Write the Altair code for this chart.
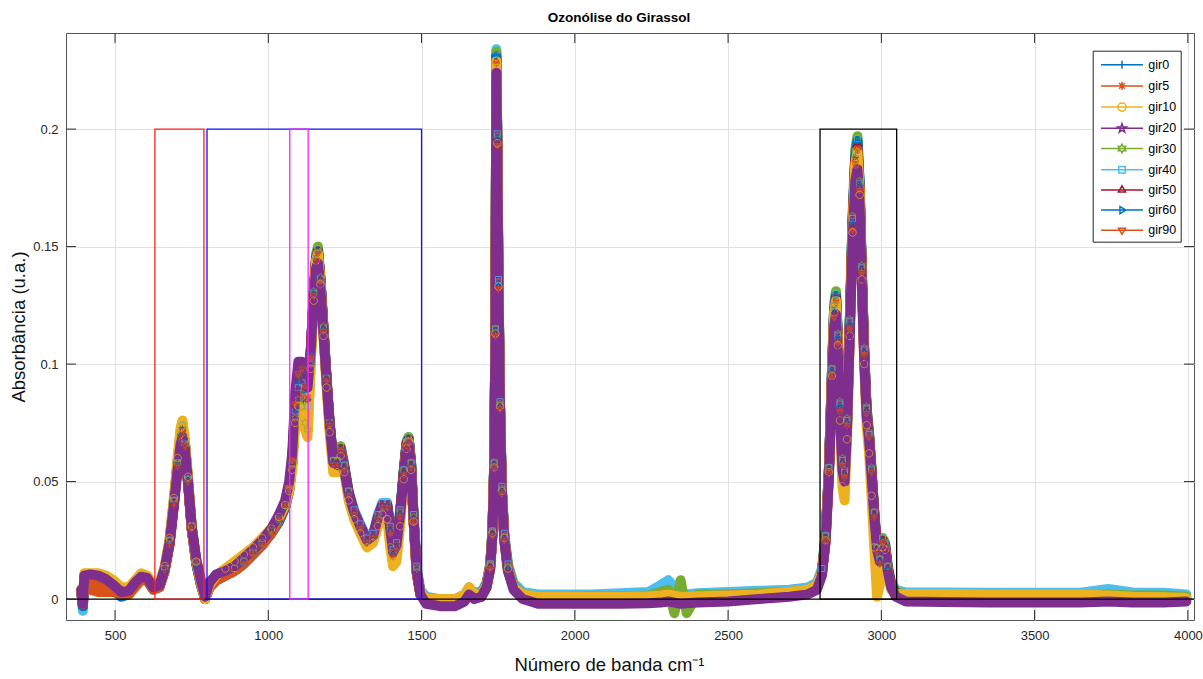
import math
import altair as alt
import pandas as pd

# ---- spectra: wavenumber grid (cm-1) and absorbance of each sample ----
wavenumber = [390, 395, 400, 420, 445, 470, 495, 520, 545, 565,
              585, 605, 625, 645, 662, 678, 692, 704, 714, 720,
              728, 738, 750, 765, 780, 794, 808, 830, 860, 890,
              920, 950, 980, 1010, 1035, 1055, 1068, 1078, 1088, 1098,
              1110, 1120, 1128, 1138, 1148, 1156, 1162, 1170, 1180, 1190,
              1200, 1212, 1225, 1236, 1248, 1262, 1280, 1300, 1322, 1342,
              1358, 1372, 1388, 1398, 1407, 1418, 1430, 1442, 1451, 1458,
              1466, 1474, 1484, 1496, 1515, 1560, 1610, 1640, 1655, 1672,
              1695, 1712, 1724, 1731, 1737, 1741, 1744, 1747, 1751, 1756,
              1762, 1770, 1782, 1800, 1830, 1880, 1950, 2050, 2150, 2240,
              2280, 2305, 2325, 2345, 2365, 2400, 2500, 2600, 2700, 2760,
              2790, 2806, 2818, 2829, 2839, 2846, 2852, 2858, 2865, 2873,
              2880, 2888, 2897, 2906, 2915, 2922, 2929, 2936, 2944, 2952,
              2960, 2968, 2977, 2986, 2995, 3004, 3012, 3021, 3032, 3048,
              3080, 3200, 3350, 3500, 3650, 3740, 3820, 3920, 3995]

gir0 = [0.003, -0.003, 0.009, 0.009, 0.0085, 0.007, 0.004, 0.001, 0.002, 0.006,
        0.009, 0.008, 0.004, 0.005, 0.012, 0.024, 0.041, 0.058, 0.070, 0.073,
        0.066, 0.050, 0.030, 0.015, 0.006, 0.000, 0.005, 0.008, 0.010, 0.012,
        0.015, 0.019, 0.023, 0.028, 0.033, 0.039, 0.046, 0.058, 0.080, 0.092,
        0.095, 0.088, 0.085, 0.104, 0.130, 0.145, 0.148, 0.136, 0.115, 0.093,
        0.074, 0.058, 0.058, 0.064, 0.056, 0.045, 0.036, 0.030, 0.024, 0.026,
        0.034, 0.039, 0.039, 0.029, 0.019, 0.022, 0.036, 0.054, 0.066, 0.068,
        0.057, 0.034, 0.012, 0.002, -0.001, -0.002, -0.002, 0.000, 0.003, 0.001,
        0.002, 0.006, 0.014, 0.028, 0.057, 0.114, 0.231, 0.196, 0.134, 0.082,
        0.046, 0.026, 0.013, 0.005, 0.001, -0.001, -0.001, -0.001, -0.001, -0.001,
        0.000, 0.001, 0.000, -0.001, -0.001, -0.001, 0.000, 0.001, 0.002, 0.003,
        0.005, 0.011, 0.026, 0.055, 0.097, 0.123, 0.129, 0.111, 0.082, 0.058,
        0.053, 0.075, 0.117, 0.160, 0.188, 0.194, 0.176, 0.140, 0.105, 0.080,
        0.069, 0.054, 0.036, 0.021, 0.016, 0.025, 0.023, 0.013, 0.006, 0.002,
        0.000, 0.000, 0.000, -0.0005, -0.0005, 0.000, -0.0005, -0.0005, 0.000]

gir5 = [0.002, -0.002, 0.006, 0.004, 0.003, 0.003, 0.003, 0.002, 0.002, 0.005,
        0.008, 0.008, 0.004, 0.005, 0.012, 0.023, 0.040, 0.056, 0.068, 0.071,
        0.065, 0.050, 0.030, 0.016, 0.007, 0.000, 0.005, 0.008, 0.010, 0.012,
        0.015, 0.019, 0.023, 0.028, 0.034, 0.040, 0.047, 0.059, 0.083, 0.095,
        0.097, 0.090, 0.086, 0.103, 0.129, 0.144, 0.147, 0.135, 0.114, 0.093,
        0.074, 0.057, 0.057, 0.063, 0.055, 0.044, 0.036, 0.030, 0.024, 0.026,
        0.034, 0.039, 0.039, 0.028, 0.018, 0.021, 0.035, 0.053, 0.065, 0.067,
        0.056, 0.033, 0.011, 0.002, -0.001, -0.002, -0.002, 0.000, 0.002, 0.001,
        0.001, 0.005, 0.013, 0.027, 0.056, 0.112, 0.228, 0.193, 0.132, 0.081,
        0.045, 0.025, 0.012, 0.005, 0.001, 0.000, 0.000, 0.000, 0.000, 0.0005,
        0.001, 0.0015, 0.001, 0.000, 0.0005, 0.0005, 0.001, 0.0015, 0.002, 0.003,
        0.005, 0.011, 0.025, 0.054, 0.095, 0.120, 0.126, 0.109, 0.080, 0.057,
        0.052, 0.074, 0.115, 0.157, 0.185, 0.191, 0.174, 0.139, 0.104, 0.079,
        0.069, 0.054, 0.035, 0.020, 0.015, 0.024, 0.022, 0.012, 0.005, 0.001,
        0.000, 0.0005, 0.0005, 0.0005, 0.000, 0.0005, 0.000, 0.000, 0.000]

gir10 = [0.004, -0.001, 0.011, 0.011, 0.011, 0.010, 0.008, 0.005, 0.005, 0.008,
         0.011, 0.010, 0.006, 0.007, 0.014, 0.026, 0.043, 0.060, 0.073, 0.076,
         0.068, 0.052, 0.031, 0.016, 0.007, 0.000, 0.006, 0.010, 0.013, 0.016,
         0.019, 0.022, 0.026, 0.030, 0.035, 0.040, 0.046, 0.055, 0.075, 0.082,
         0.078, 0.072, 0.069, 0.098, 0.127, 0.144, 0.147, 0.134, 0.112, 0.090,
         0.071, 0.054, 0.054, 0.061, 0.054, 0.042, 0.034, 0.028, 0.022, 0.024,
         0.031, 0.036, 0.034, 0.022, 0.014, 0.016, 0.031, 0.051, 0.064, 0.067,
         0.055, 0.033, 0.012, 0.003, 0.000, 0.000, 0.000, 0.002, 0.005, 0.002,
         0.002, 0.006, 0.014, 0.028, 0.056, 0.113, 0.229, 0.194, 0.133, 0.082,
         0.046, 0.026, 0.013, 0.005, 0.002, 0.001, 0.001, 0.001, 0.001, 0.0012,
         0.0015, 0.002, 0.0015, 0.001, 0.001, 0.0012, 0.0015, 0.002, 0.003, 0.004,
         0.006, 0.011, 0.025, 0.054, 0.095, 0.122, 0.127, 0.108, 0.076, 0.048,
         0.042, 0.068, 0.112, 0.156, 0.185, 0.190, 0.172, 0.136, 0.100, 0.074,
         0.062, 0.044, 0.022, 0.001, 0.006, 0.022, 0.021, 0.011, 0.004, 0.002,
         0.0022, 0.0022, 0.002, 0.002, 0.002, 0.0015, 0.001, 0.0008, 0.0005]

gir20 = [0.004, -0.002, 0.010, 0.0105, 0.010, 0.0085, 0.006, 0.003, 0.0035, 0.007,
         0.0095, 0.009, 0.005, 0.006, 0.013, 0.024, 0.040, 0.055, 0.066, 0.069,
         0.064, 0.050, 0.031, 0.017, 0.008, 0.001, 0.007, 0.0105, 0.012, 0.014,
         0.0175, 0.021, 0.025, 0.030, 0.036, 0.042, 0.050, 0.062, 0.088, 0.101,
         0.101, 0.096, 0.090, 0.105, 0.128, 0.141, 0.143, 0.132, 0.113, 0.093,
         0.075, 0.058, 0.057, 0.062, 0.055, 0.045, 0.037, 0.031, 0.025, 0.027,
         0.035, 0.040, 0.040, 0.030, 0.020, 0.023, 0.036, 0.053, 0.064, 0.066,
         0.056, 0.034, 0.012, 0.002, -0.002, -0.003, -0.003, -0.001, 0.002, 0.000,
         0.001, 0.005, 0.013, 0.027, 0.055, 0.110, 0.224, 0.190, 0.130, 0.080,
         0.045, 0.025, 0.012, 0.004, 0.000, -0.002, -0.002, -0.002, -0.002, -0.0018,
         -0.0015, -0.001, -0.0015, -0.002, -0.0018, -0.0015, -0.001, 0.000, 0.001, 0.002,
         0.004, 0.010, 0.024, 0.052, 0.092, 0.116, 0.121, 0.105, 0.078, 0.055,
         0.050, 0.072, 0.112, 0.152, 0.178, 0.183, 0.168, 0.135, 0.102, 0.078,
         0.068, 0.053, 0.035, 0.021, 0.016, 0.023, 0.021, 0.012, 0.005, 0.001,
         -0.001, -0.0012, -0.0015, -0.0015, -0.0015, -0.001, -0.0015, -0.0015, -0.001]

gir30 = [0.004, -0.002, 0.010, 0.010, 0.0095, 0.008, 0.0055, 0.0025, 0.003, 0.0065,
         0.009, 0.0085, 0.0045, 0.0055, 0.013, 0.025, 0.042, 0.058, 0.071, 0.074,
         0.066, 0.051, 0.031, 0.016, 0.007, 0.001, 0.006, 0.009, 0.011, 0.013,
         0.016, 0.020, 0.024, 0.029, 0.034, 0.040, 0.047, 0.057, 0.077, 0.085,
         0.082, 0.075, 0.072, 0.100, 0.131, 0.147, 0.150, 0.137, 0.116, 0.094,
         0.075, 0.059, 0.059, 0.065, 0.057, 0.046, 0.037, 0.031, 0.025, 0.027,
         0.035, 0.040, 0.040, 0.030, 0.020, 0.023, 0.037, 0.055, 0.067, 0.069,
         0.058, 0.035, 0.013, 0.003, 0.000, -0.001, -0.001, 0.001, 0.005, 0.002,
         0.002, 0.006, 0.015, 0.029, 0.058, 0.115, 0.233, 0.197, 0.135, 0.083,
         0.047, 0.027, 0.014, 0.006, 0.002, 0.001, 0.001, 0.0012, 0.0012, 0.0015,
         0.003, 0.004, -0.006, 0.008, -0.006, 0.002, 0.002, 0.0025, 0.003, 0.004,
         0.006, 0.012, 0.027, 0.056, 0.098, 0.125, 0.131, 0.113, 0.084, 0.060,
         0.055, 0.077, 0.119, 0.163, 0.191, 0.197, 0.178, 0.142, 0.107, 0.082,
         0.071, 0.056, 0.037, 0.022, 0.017, 0.026, 0.024, 0.014, 0.007, 0.003,
         0.002, 0.002, 0.002, 0.0015, 0.0015, 0.002, 0.0015, 0.0015, 0.001]

gir40 = [0.002, -0.005, 0.010, 0.0105, 0.010, 0.0085, 0.006, 0.003, 0.0035, 0.007,
         0.0095, 0.009, 0.005, 0.006, 0.013, 0.025, 0.042, 0.058, 0.071, 0.074,
         0.066, 0.051, 0.031, 0.016, 0.007, 0.001, 0.006, 0.009, 0.011, 0.013,
         0.016, 0.020, 0.024, 0.029, 0.034, 0.040, 0.047, 0.058, 0.080, 0.090,
         0.092, 0.086, 0.082, 0.103, 0.130, 0.146, 0.149, 0.136, 0.115, 0.094,
         0.075, 0.059, 0.059, 0.065, 0.057, 0.046, 0.038, 0.032, 0.026, 0.028,
         0.036, 0.041, 0.041, 0.031, 0.021, 0.024, 0.038, 0.055, 0.067, 0.069,
         0.058, 0.036, 0.014, 0.004, 0.001, 0.000, 0.000, 0.002, 0.004, 0.003,
         0.003, 0.007, 0.015, 0.029, 0.058, 0.115, 0.234, 0.198, 0.136, 0.084,
         0.048, 0.028, 0.015, 0.007, 0.003, 0.002, 0.002, 0.002, 0.0025, 0.003,
         0.006, 0.008, 0.005, 0.002, 0.002, 0.0025, 0.003, 0.0035, 0.004, 0.005,
         0.007, 0.013, 0.027, 0.056, 0.098, 0.125, 0.130, 0.112, 0.083, 0.059,
         0.054, 0.076, 0.118, 0.162, 0.190, 0.196, 0.177, 0.141, 0.106, 0.081,
         0.070, 0.055, 0.037, 0.022, 0.017, 0.026, 0.024, 0.014, 0.007, 0.004,
         0.0028, 0.0028, 0.0027, 0.0027, 0.0027, 0.0043, 0.0028, 0.0027, 0.002]

gir50 = [0.004, -0.002, 0.0095, 0.0095, 0.009, 0.0075, 0.005, 0.002, 0.003, 0.0065,
         0.009, 0.0085, 0.0045, 0.0055, 0.0125, 0.024, 0.041, 0.057, 0.069, 0.072,
         0.065, 0.050, 0.030, 0.016, 0.007, 0.000, 0.006, 0.009, 0.011, 0.013,
         0.016, 0.020, 0.024, 0.029, 0.034, 0.040, 0.047, 0.058, 0.082, 0.094,
         0.096, 0.090, 0.085, 0.103, 0.129, 0.145, 0.148, 0.136, 0.115, 0.094,
         0.075, 0.058, 0.058, 0.064, 0.056, 0.045, 0.037, 0.031, 0.025, 0.027,
         0.035, 0.040, 0.040, 0.029, 0.019, 0.022, 0.036, 0.054, 0.066, 0.068,
         0.057, 0.034, 0.012, 0.003, -0.001, -0.002, -0.002, 0.000, 0.003, 0.001,
         0.002, 0.006, 0.014, 0.028, 0.057, 0.113, 0.229, 0.195, 0.133, 0.082,
         0.046, 0.026, 0.013, 0.005, 0.001, -0.0005, -0.0005, -0.0005, -0.0005, 0.000,
         0.000, 0.0005, 0.000, -0.0005, 0.000, 0.000, 0.0005, 0.001, 0.002, 0.003,
         0.005, 0.011, 0.026, 0.055, 0.096, 0.122, 0.128, 0.110, 0.081, 0.058,
         0.053, 0.075, 0.116, 0.158, 0.187, 0.192, 0.175, 0.140, 0.105, 0.080,
         0.069, 0.054, 0.036, 0.021, 0.016, 0.025, 0.023, 0.013, 0.006, 0.002,
         0.000, 0.000, -0.0005, -0.0005, -0.0005, 0.000, -0.0005, -0.0005, 0.000]

gir60 = [0.003, -0.003, 0.009, 0.0095, 0.009, 0.0075, 0.0045, 0.0015, 0.0025, 0.0065,
         0.009, 0.0085, 0.0045, 0.0055, 0.0125, 0.024, 0.041, 0.057, 0.069, 0.072,
         0.066, 0.050, 0.030, 0.015, 0.006, 0.000, 0.005, 0.008, 0.010, 0.012,
         0.015, 0.019, 0.023, 0.028, 0.033, 0.039, 0.046, 0.058, 0.081, 0.093,
         0.096, 0.089, 0.085, 0.104, 0.130, 0.145, 0.148, 0.136, 0.115, 0.094,
         0.075, 0.058, 0.058, 0.064, 0.056, 0.045, 0.036, 0.030, 0.024, 0.026,
         0.034, 0.039, 0.039, 0.029, 0.019, 0.022, 0.036, 0.054, 0.066, 0.068,
         0.057, 0.034, 0.012, 0.002, -0.001, -0.002, -0.002, 0.000, 0.003, 0.001,
         0.002, 0.006, 0.014, 0.028, 0.057, 0.114, 0.231, 0.196, 0.134, 0.082,
         0.046, 0.026, 0.013, 0.005, 0.001, -0.001, -0.001, -0.001, -0.001, -0.0005,
         0.000, 0.0005, 0.000, -0.001, -0.0005, -0.0005, 0.000, 0.001, 0.002, 0.003,
         0.005, 0.011, 0.026, 0.055, 0.097, 0.123, 0.129, 0.111, 0.082, 0.058,
         0.053, 0.075, 0.117, 0.160, 0.188, 0.195, 0.176, 0.140, 0.105, 0.080,
         0.069, 0.054, 0.036, 0.021, 0.016, 0.025, 0.023, 0.013, 0.006, 0.002,
         0.000, 0.000, 0.000, -0.0005, -0.0005, 0.000, -0.0005, -0.0005, 0.000]

gir90 = [0.003, -0.002, 0.008, 0.007, 0.006, 0.005, 0.004, 0.002, 0.0025, 0.006,
         0.009, 0.0085, 0.0045, 0.0055, 0.0125, 0.024, 0.041, 0.057, 0.069, 0.072,
         0.065, 0.050, 0.030, 0.016, 0.007, 0.000, 0.005, 0.008, 0.010, 0.012,
         0.015, 0.019, 0.023, 0.028, 0.034, 0.040, 0.047, 0.059, 0.083, 0.096,
         0.098, 0.091, 0.086, 0.103, 0.129, 0.144, 0.147, 0.135, 0.114, 0.093,
         0.074, 0.057, 0.057, 0.063, 0.055, 0.044, 0.036, 0.030, 0.024, 0.026,
         0.034, 0.039, 0.039, 0.028, 0.018, 0.021, 0.035, 0.053, 0.065, 0.067,
         0.056, 0.033, 0.011, 0.002, -0.001, -0.002, -0.002, 0.000, 0.002, 0.001,
         0.001, 0.005, 0.013, 0.027, 0.056, 0.112, 0.228, 0.193, 0.132, 0.081,
         0.045, 0.025, 0.012, 0.005, 0.001, 0.000, 0.0005, 0.0005, 0.0005, 0.001,
         0.0015, 0.002, 0.0015, 0.001, 0.001, 0.001, 0.0015, 0.002, 0.0025, 0.0035,
         0.005, 0.011, 0.025, 0.054, 0.095, 0.120, 0.126, 0.109, 0.080, 0.057,
         0.052, 0.074, 0.115, 0.157, 0.185, 0.191, 0.174, 0.139, 0.104, 0.079,
         0.069, 0.054, 0.035, 0.020, 0.015, 0.024, 0.022, 0.012, 0.005, 0.001,
         0.0005, 0.0005, 0.0005, 0.0005, 0.0005, 0.0005, 0.0005, 0.0005, 0.0005]

series_names = ["gir0", "gir5", "gir10", "gir20", "gir30", "gir40", "gir50", "gir60", "gir90"]
series_values = [gir0, gir5, gir10, gir20, gir30, gir40, gir50, gir60, gir90]
series_colors = ["#0072BD", "#D95319", "#EDB120", "#7E2F8E", "#77AC30",
                 "#4DBEEE", "#A2142F", "#0072BD", "#D95319"]
series_markers = ["plus", "asterisk", "circle", "pentagram", "hexagram",
                  "square", "triangle-up", "triangle-right", "triangle-down"]
# painting order: gir20 last so it sits on top of the others
draw_order = ["gir40", "gir30", "gir0", "gir60", "gir50", "gir5", "gir90", "gir10", "gir20"]

# ---- highlighted integration windows ----
box_start = [630, 800, 1070, 2800]
box_end = [790, 1500, 1130, 3050]
box_top = [0.2, 0.2, 0.2, 0.2]
box_colors = ["#FF2020", "#1010FF", "#FF20FF", "#000000"]

x_ticks = [500, 1000, 1500, 2000, 2500, 3000, 3500, 4000]
y_ticks = [0, 0.05, 0.1, 0.15, 0.2]

for name, vals in zip(series_names, series_values):
    if len(vals) != len(wavenumber):
        raise ValueError(f"{name}: {len(vals)} values for {len(wavenumber)} wavenumbers")

rows = []
for name, vals in zip(series_names, series_values):
    for w, a in zip(wavenumber, vals):
        rows.append({"amostra": name, "numero": w, "absorbancia": a})
spectra = pd.DataFrame(rows)


# ---- marker glyphs as SVG paths ----
def fmt(v):
    return f"{v:.3f}".rstrip("0").rstrip(".") if v != 0 else "0"


def star(n, r_out, r_in):
    pts = []
    for k in range(2 * n):
        r = r_out if k % 2 == 0 else r_in
        ang = -math.pi / 2 + k * math.pi / n
        pts.append((r * math.cos(ang), r * math.sin(ang)))
    return "M" + "L".join(f"{fmt(x)},{fmt(y)}" for x, y in pts) + "Z"


def marker_path(kind, r):
    d = r * 0.7071
    h = r * 0.866
    s = r * 0.8
    if kind == "plus":
        return f"M0,{fmt(-r)}V{fmt(r)}M{fmt(-r)},0H{fmt(r)}"
    if kind == "asterisk":
        return (f"M0,{fmt(-r)}V{fmt(r)}M{fmt(-r)},0H{fmt(r)}"
                f"M{fmt(-d)},{fmt(-d)}L{fmt(d)},{fmt(d)}M{fmt(-d)},{fmt(d)}L{fmt(d)},{fmt(-d)}")
    if kind == "circle":
        return f"M{fmt(-r)},0A{fmt(r)},{fmt(r)} 0 1,0 {fmt(r)},0A{fmt(r)},{fmt(r)} 0 1,0 {fmt(-r)},0Z"
    if kind == "pentagram":
        return star(5, r * 1.15, r * 0.45)
    if kind == "hexagram":
        return star(6, r * 1.05, r * 0.6)
    if kind == "square":
        return f"M{fmt(-s)},{fmt(-s)}H{fmt(s)}V{fmt(s)}H{fmt(-s)}Z"
    if kind == "triangle-up":
        return f"M0,{fmt(-r)}L{fmt(h)},{fmt(r / 2)}H{fmt(-h)}Z"
    if kind == "triangle-right":
        return f"M{fmt(r)},0L{fmt(-r / 2)},{fmt(-h)}V{fmt(h)}Z"
    return f"M0,{fmt(r)}L{fmt(h)},{fmt(-r / 2)}H{fmt(-h)}Z"


legend_paths = ["M-2.33,0H2.33" + marker_path(m, 0.45) for m in series_markers]

plot_w, plot_h = 1128, 587
font = "Liberation Sans"
ink = "#262626"

x_axis = alt.Axis(values=x_ticks, format="d", title="Número de banda cm⁻¹",
                  grid=True, gridColor="#e2e2e2", gridWidth=1, ticks=False, tickSize=0,
                  domain=False, labelPadding=9, labelFont=font, labelFontSize=13,
                  labelColor=ink, titleFont=font, titleFontSize=18.5,
                  titleFontWeight="normal", titleColor="#111111", titlePadding=13,
                  titleX=543)
y_axis = alt.Axis(values=y_ticks, format=".2~f", title="Absorbância (u.a.)",
                  grid=True, gridColor="#e2e2e2", gridWidth=1, ticks=False, tickSize=0,
                  domain=False, labelPadding=8, labelFont=font, labelFontSize=13,
                  labelColor=ink, titleFont=font, titleFontSize=18.5,
                  titleFontWeight="normal", titleColor="#111111", titlePadding=4)
x_scale = alt.Scale(domain=[340, 4020], nice=False, zero=False)
y_scale = alt.Scale(domain=[-0.0089, 0.2409], nice=False, zero=False)


def xq(field="numero"):
    return alt.X(f"{field}:Q", scale=x_scale, axis=x_axis, title="Número de banda cm⁻¹")


def yq(field="absorbancia"):
    return alt.Y(f"{field}:Q", scale=y_scale, axis=y_axis, title="Absorbância (u.a.)")


layers = []
color_of = dict(zip(series_names, series_colors))
marker_of = dict(zip(series_names, series_markers))

# broad bands: each sample is dense enough that its markers merge into a thick trace
for name in draw_order:
    layers.append(
        alt.Chart(spectra).transform_filter(alt.datum.amostra == name)
        .mark_line(color=color_of[name], strokeWidth=10, strokeCap="round",
                   strokeJoin="round", clip=True)
        .encode(x=xq(), y=yq(), order="numero:Q")
    )

# hollow markers on the absorption bands
for name in draw_order:
    layers.append(
        alt.Chart(spectra).transform_filter(
            (alt.datum.amostra == name) & (alt.datum.absorbancia > 0.012))
        .mark_point(filled=False, strokeWidth=1, size=56, clip=True)
        .encode(x=xq(), y=yq(),
                shape=alt.value(marker_path(marker_of[name], 1.0)),
                color=alt.value(color_of[name]))
    )

# baseline at zero
layers.append(
    alt.Chart(pd.DataFrame({"absorbancia": [0]})).mark_rule(color="#000000", strokeWidth=1.3)
    .encode(y=yq(), x=alt.value(0), x2=alt.value(plot_w))
)

# integration windows
boxes = pd.DataFrame({"numero": box_start, "numero_fim": box_end,
                      "absorbancia": [0] * len(box_start), "absorbancia_fim": box_top,
                      "cor": box_colors})
layers.append(
    alt.Chart(boxes).mark_rect(fillOpacity=0, strokeWidth=1.3)
    .encode(x=xq(), x2="numero_fim:Q", y=yq(), y2="absorbancia_fim:Q",
            stroke=alt.Stroke("cor:N", scale=None))
)

# inward ticks on all four sides
xt = pd.DataFrame({"numero": x_ticks})
yt = pd.DataFrame({"absorbancia": y_ticks})
tick_len = 10
layers.append(alt.Chart(xt).mark_rule(color=ink, strokeWidth=1)
              .encode(x=xq(), y=alt.value(plot_h), y2=alt.value(plot_h - tick_len)))
layers.append(alt.Chart(xt).mark_rule(color=ink, strokeWidth=1)
              .encode(x=xq(), y=alt.value(0), y2=alt.value(tick_len)))
layers.append(alt.Chart(yt).mark_rule(color=ink, strokeWidth=1)
              .encode(y=yq(), x=alt.value(0), x2=alt.value(tick_len)))
layers.append(alt.Chart(yt).mark_rule(color=ink, strokeWidth=1)
              .encode(y=yq(), x=alt.value(plot_w), x2=alt.value(plot_w - tick_len)))

# legend (line + marker glyphs)
legend_spec = alt.Legend(title=None, orient="none", legendX=1026.7, legendY=17.7,
                         symbolSize=324, symbolStrokeWidth=1.5, symbolOffset=15.3,
                         labelOffset=16.3, padding=4, rowPadding=3.2, symbolOpacity=1,
                         strokeColor="#262626", fillColor="#ffffff",
                         labelFont=font, labelFontSize=12.5, labelColor="#000000")
layers.append(
    alt.Chart(pd.DataFrame({"amostra": series_names}))
    .mark_point(filled=False, opacity=0)
    .encode(color=alt.Color("amostra:N",
                            scale=alt.Scale(domain=series_names, range=series_colors),
                            legend=legend_spec),
            shape=alt.Shape("amostra:N",
                            scale=alt.Scale(domain=series_names, range=legend_paths),
                            legend=legend_spec))
)

chart = (
    alt.layer(*layers)
    .properties(
        width=plot_w, height=plot_h,
        title=alt.TitleParams("Ozonólise do Girassol", font=font, fontSize=13.5,
                              fontWeight="bold", color="#000000", anchor="middle",
                              offset=8, dx=-11),
        padding={"left": 66, "top": 33, "right": 9, "bottom": 59},
        autosize=alt.AutoSizeParams(type="none"),
        background="#ffffff",
    )
    .configure_view(stroke="#555555", strokeWidth=1)
)

chart.save("out.html", embed_options={"renderer": "svg", "actions": False})
